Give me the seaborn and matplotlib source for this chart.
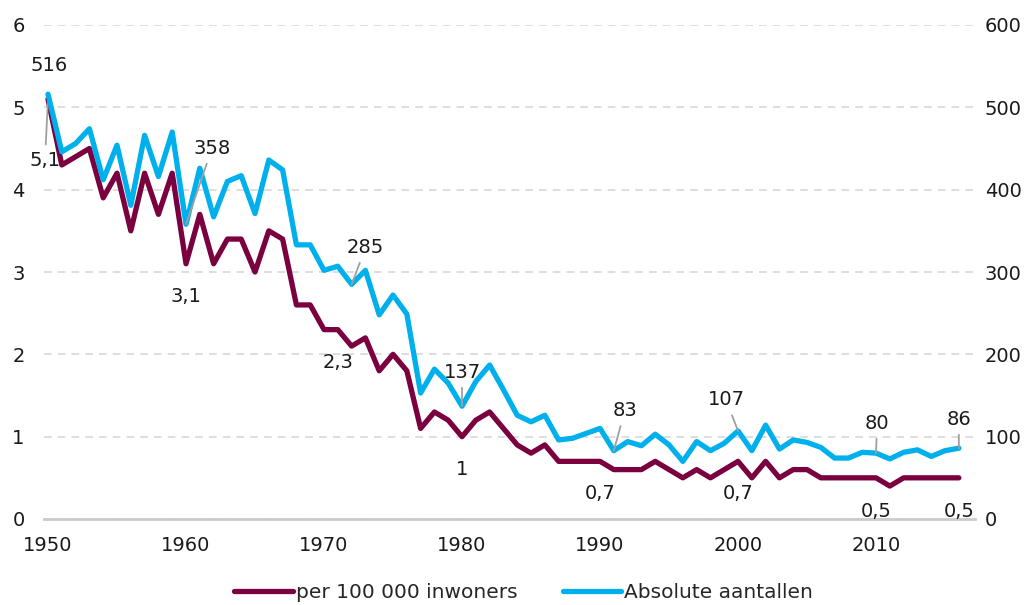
import matplotlib
matplotlib.use("Agg")
import matplotlib.pyplot as plt
import seaborn as sns
from matplotlib.lines import Line2D

years = list(range(1950, 2017))

rate = [5.1, 4.3, 4.4, 4.5, 3.9, 4.2, 3.5, 4.2, 3.7, 4.2,
        3.1, 3.7, 3.1, 3.4, 3.4, 3.0, 3.5, 3.4, 2.6, 2.6,
        2.3, 2.3, 2.1, 2.2, 1.8, 2.0, 1.8, 1.1, 1.3, 1.2,
        1.0, 1.2, 1.3, 1.1, 0.9, 0.8, 0.9, 0.7, 0.7, 0.7,
        0.7, 0.6, 0.6, 0.6, 0.7, 0.6, 0.5, 0.6, 0.5, 0.6,
        0.7, 0.5, 0.7, 0.5, 0.6, 0.6, 0.5, 0.5, 0.5, 0.5,
        0.5, 0.4, 0.5, 0.5, 0.5, 0.5, 0.5]

absolute = [516, 446, 456, 474, 412, 454, 381, 466, 416, 470,
            358, 426, 367, 410, 417, 371, 436, 424, 333, 333,
            302, 307, 285, 302, 248, 272, 249, 153, 182, 165,
            137, 167, 187, 157, 126, 118, 126, 96, 98, 104,
            110, 83, 94, 89, 103, 90, 70, 94, 83, 92,
            107, 83, 114, 85, 96, 93, 87, 74, 74, 81,
            80, 73, 81, 84, 76, 83, 86]

rate_label_years = [1950, 1960, 1971, 1980, 1990, 2000, 2010, 2016]
abs_label_years = [1950, 1960, 1972, 1980, 1991, 2000, 2010, 2016]

series_names = ["per 100 000 inwoners", "Absolute aantallen"]
x_ticks = [1950, 1960, 1970, 1980, 1990, 2000, 2010]

red = "#7a0040"
blue = "#00b0ec"
txt = "#1a1a1a"
fs = 14

sns.set_style("white")
plt.rcParams["font.family"] = ["DejaVu Sans"]

fig = plt.figure(figsize=(10.27, 6.05), dpi=100)
ax = fig.add_subplot(111)
ax2 = ax.twinx()
pos = [44 / 1027, 86 / 605, 931 / 1027, 494 / 605]
ax.set_position(pos)
ax2.set_position(pos)

sns.lineplot(x=years, y=rate, ax=ax, color=red, linewidth=3.8, legend=False)
sns.lineplot(x=years, y=absolute, ax=ax2, color=blue, linewidth=3.8, legend=False)

ax.set_xlim(1949.71, 2017.17)
ax.set_ylim(0, 6)
ax2.set_ylim(0, 600)
ax.set_xticks(x_ticks)
ax.set_yticks(range(0, 7))
ax2.set_yticks(range(0, 601, 100))
ax.set_xlabel("")
ax.set_ylabel("")
ax2.set_ylabel("")

ax.yaxis.grid(True, linestyle=(0, (5, 4)), color="#d4d4d4", linewidth=1.1)
ax2.grid(False)
for a in (ax, ax2):
    for s in a.spines.values():
        s.set_visible(False)
ax.spines["bottom"].set_visible(True)
ax.spines["bottom"].set_color("#cccccc")
ax.spines["bottom"].set_linewidth(2)

ax.tick_params(axis="y", length=0, pad=14, labelsize=fs, labelcolor=txt)
ax.tick_params(axis="x", length=0, pad=12, labelsize=fs, labelcolor=txt)
ax2.tick_params(axis="y", length=0, pad=7, labelsize=fs, labelcolor=txt)


def fmt(v):
    return ("%g" % v).replace(".", ",")


leader = dict(arrowstyle="-", color="#a0a0a0", lw=1.3, shrinkA=2, shrinkB=0)

rate_offsets = [(-3, -61), (0, -33), (0, -33), (0, -33), (0, -32), (0, -32), (0, -34), (0, -34)]
rate_leaders = [True, False, False, False, False, False, False, False]
for yr, off, ld in zip(rate_label_years, rate_offsets, rate_leaders):
    v = rate[years.index(yr)]
    ax.annotate(fmt(v), xy=(yr, v), xytext=off, textcoords="offset pixels",
                ha="center", va="center", fontsize=fs, color=txt,
                arrowprops=leader if ld else None, zorder=5)

abs_offsets = [(1, 29), (26, 76), (14, 37), (0, 34), (11, 40), (-12, 31), (1, 30), (0, 29)]
abs_leaders = [False, True, True, True, True, True, True, True]
for yr, off, ld in zip(abs_label_years, abs_offsets, abs_leaders):
    v = absolute[years.index(yr)]
    ax2.annotate(fmt(v), xy=(yr, v), xytext=off, textcoords="offset pixels",
                 ha="center", va="center", fontsize=fs, color=txt,
                 arrowprops=leader if ld else None, zorder=5)

handles = [Line2D([], [], color=red, lw=3.8, solid_capstyle="round"),
           Line2D([], [], color=blue, lw=3.8, solid_capstyle="round")]
fig.legend(handles, series_names, loc="center", bbox_to_anchor=(0.51, 12 / 605),
           ncol=2, frameon=False, fontsize=14.5, handlelength=2.9,
           handletextpad=0.15, columnspacing=2.25)

fig.savefig("out.png", dpi=100)
